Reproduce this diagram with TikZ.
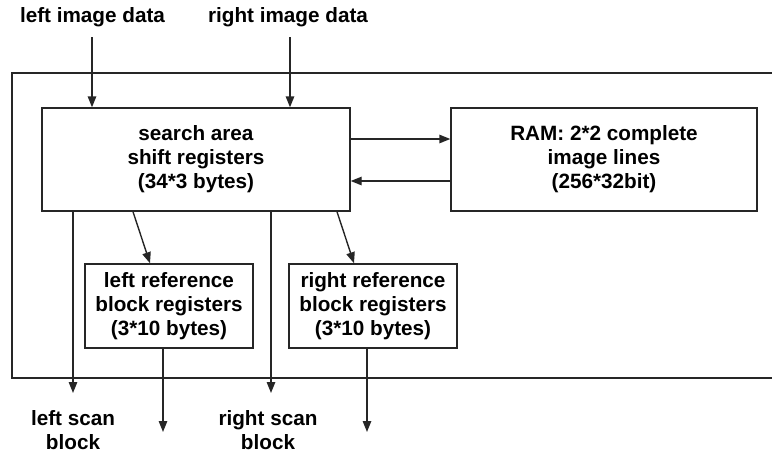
\documentclass[tikz,border=0pt]{standalone}
\usepackage{fontspec}
\setmainfont{Liberation Sans}
\usetikzlibrary{arrows.meta}
\begin{document}
\begin{tikzpicture}[x=1pt,y=-1pt,
  lw/.style={line width=1.4pt, draw=black!85},
  arr/.style={lw, -{Triangle[length=11pt,width=8.5pt]}},
  blk/.style={lw, rectangle, align=center, inner sep=0pt, font=\fontsize{20.7}{24}\selectfont\bfseries},
  lbl/.style={align=center, inner sep=0pt, font=\fontsize{20.7}{24}\selectfont\bfseries}]
\useasboundingbox (0,0) rectangle (772,456);
% outer frame (open to the right)
\draw[lw] (772,73) -- (12,73) -- (12,378) -- (772,378);
% nodes
\node[lbl] (lid) at (92.5,17) {left image data};
\node[lbl] (rid) at (288,17) {right image data};
\node[blk, minimum width=308pt, minimum height=103pt] (search) at (196,159.5) {search area\\shift registers\\(34*3 bytes)};
\node[blk, minimum width=306pt, minimum height=103pt] (ram) at (604,159.5) {RAM: 2*2 complete\\image lines\\(256*32bit)};
\node[blk, minimum width=168pt, minimum height=84pt] (lref) at (169,306) {left reference\\block registers\\(3*10 bytes)};
\node[blk, minimum width=168pt, minimum height=84pt] (rref) at (373,306) {right reference\\block registers\\(3*10 bytes)};
\node[lbl, anchor=north] (lsb) at (73,410) {left scan\\block};
\node[lbl, anchor=north] (rsb) at (268,410) {right scan\\block};
% helper coordinates
\coordinate (lin) at (92,37);
\coordinate (rin) at (290,37);
\coordinate (lout) at (163,432);
\coordinate (rout) at (367,432);
\coordinate (lsbtop) at (73,393);
\coordinate (rsbtop) at (271,393);
% connectors
\draw[arr] (lin) -- (lin |- search.north);
\draw[arr] (rin) -- (rin |- search.north);
\draw[arr] ([yshift=20.5pt]search.east) -- ([yshift=20.5pt]ram.west);
\draw[arr] ([yshift=-21.5pt]ram.west) -- ([yshift=-21.5pt]search.east);
\draw[arr] (search.south -| 133,0) -- (lref.north -| 150,0);
\draw[arr] (search.south -| 337,0) -- (rref.north -| 354,0);
\draw[arr] (search.south -| lsbtop) -- (lsbtop);
\draw[arr] (search.south -| rsbtop) -- (rsbtop);
\draw[arr] (lref.south -| lout) -- (lout);
\draw[arr] (rref.south -| rout) -- (rout);
\end{tikzpicture}
\end{document}
